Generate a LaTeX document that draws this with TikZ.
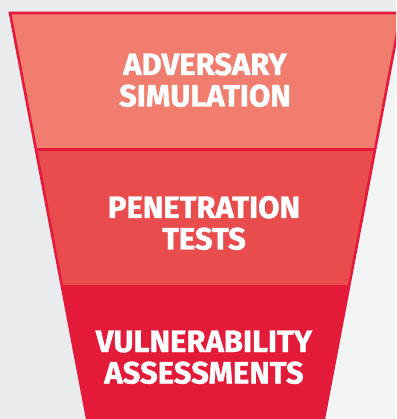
\documentclass[tikz,border=0pt]{standalone}
\usepackage{fontspec}
\newfontfamily\funnelfont{Fira Sans}[BoldFeatures={FakeBold=1.2}]
\definecolor{bgleft}{HTML}{E9EBED}
\definecolor{bgright}{HTML}{F3F4F4}
\definecolor{bandtop}{HTML}{F07D6D}
\definecolor{bandmid}{HTML}{E84C4C}
\definecolor{bandbot}{HTML}{E31A38}
\definecolor{edgered}{HTML}{E5193B}
\newcommand{\funnellabel}[2]{\begin{tabular}[t]{@{}c@{}}#1\\#2\end{tabular}}
\tikzset{
  bandlabel/.style={anchor=base, inner sep=0pt, text=white,
    font=\funnelfont\bfseries\fontsize{31pt}{31.5pt}\selectfont},
  funneledge/.style={draw=edgered, line width=2.6pt, line join=miter}
}
\begin{document}
\begin{tikzpicture}[x=1pt,y=-1pt]
  \useasboundingbox (0,0) rectangle (396,419);
  \begin{scope}
    \clip (0,0) rectangle (396,419);
    % background
    \fill[bgleft] (0,0) rectangle (396,419);
    \fill[bgright] (396,39) -- (324,419) -- (396,419) -- cycle;
    % bands
    \fill[bandtop] (10,13) -- (401,13) -- (375,150) -- (36,150) -- cycle;
    \fill[bandmid] (36,150) -- (375,150) -- (349.3,285) -- (61.7,285) -- cycle;
    \fill[bandbot] (61.7,285) -- (349.3,285) -- (322.7,425) -- (88.3,425) -- cycle;
    % outline
    \draw[funneledge] (88.3,425) -- (10,13) -- (401,13) -- (322.7,425);
    \draw[edgered, line width=3pt] (36,149.5) -- (375,149.5);
  \end{scope}
  % labels
  \node[bandlabel] (adv) at (205,75) {\funnellabel{ADVERSARY}{SIMULATION}};
  \node[bandlabel] (pen) at (204,218) {\funnellabel{PENETRATION}{TESTS}};
  \node[bandlabel] (vul) at (204,352) {\funnellabel{VULNERABILITY}{ASSESSMENTS}};
\end{tikzpicture}
\end{document}
